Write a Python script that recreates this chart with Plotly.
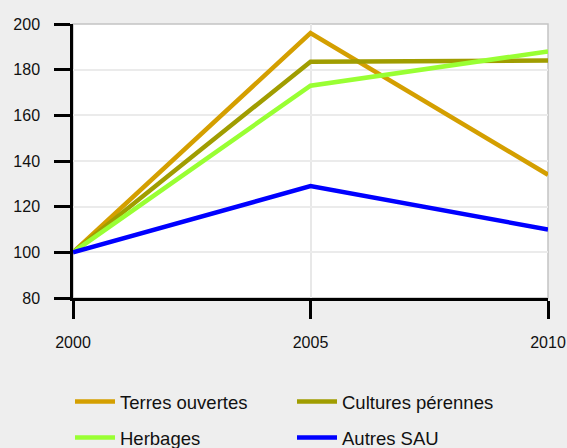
import plotly.graph_objects as go

years = [2000, 2005, 2010]
terres_ouvertes = [100, 196, 134]
cultures_perennes = [100, 183.5, 184]
herbages = [100, 173, 188]
autres_sau = [100, 129, 110]
y_ticks = [80, 100, 120, 140, 160, 180, 200]

series = [
    ("Terres ouvertes", terres_ouvertes, "#D49F00", "legend"),
    ("Cultures pérennes", cultures_perennes, "#A09D00", "legend2"),
    ("Herbages", herbages, "#99FF33", "legend"),
    ("Autres SAU", autres_sau, "#0000FF", "legend2"),
]

fig = go.Figure()
for name, vals, color, leg in series:
    fig.add_trace(go.Scatter(x=years, y=vals, mode="lines", name=name,
                             legend=leg, legendgroup=name,
                             line=dict(color=color, width=4.5)))

leg_common = dict(orientation="v", xref="container", yref="container",
                  yanchor="top", xanchor="left", bgcolor="rgba(0,0,0,0)",
                  font=dict(size=18.5, color="#111111"), tracegroupgap=9,
                  itemwidth=40)

fig.update_layout(
    width=567, height=448,
    paper_bgcolor="#EEEEEE", plot_bgcolor="#FFFFFF",
    margin=dict(l=73, r=19, t=24, b=150, autoexpand=False),
    font=dict(family="Liberation Sans, Arial, sans-serif", size=16, color="#111111"),
    showlegend=True,
    legend=dict(x=70 / 567, y=1 - 383 / 448, **leg_common),
    legend2=dict(x=292 / 567, y=1 - 383 / 448, **leg_common),
    shapes=[dict(type="rect", xref="paper", yref="paper", x0=0, x1=1, y0=0, y1=1,
                 line=dict(color="#C4C4C4", width=1.5), layer="below")],
)
fig.update_xaxes(range=[2000, 2010], tickvals=years, ticktext=[str(y) for y in years],
                 showgrid=True, gridcolor="#E8E8E8", gridwidth=2,
                 showline=True, linecolor="#000000", linewidth=2.5,
                 ticks="outside", ticklen=18, tickwidth=2.5, tickcolor="#000000",
                 ticklabelstandoff=10, zeroline=False)
fig.update_yaxes(range=[80, 200], tickvals=y_ticks,
                 showgrid=True, gridcolor="#EBEBEB", gridwidth=2,
                 showline=True, linecolor="#000000", linewidth=2.5,
                 ticks="outside", ticklen=16, tickwidth=2.5, tickcolor="#000000",
                 ticklabelstandoff=11, zeroline=False)

fig.write_html("out.html", config={"displayModeBar": False},
               post_script="document.body.style.margin='0';"
                           "document.body.style.background='#EEEEEE';")
